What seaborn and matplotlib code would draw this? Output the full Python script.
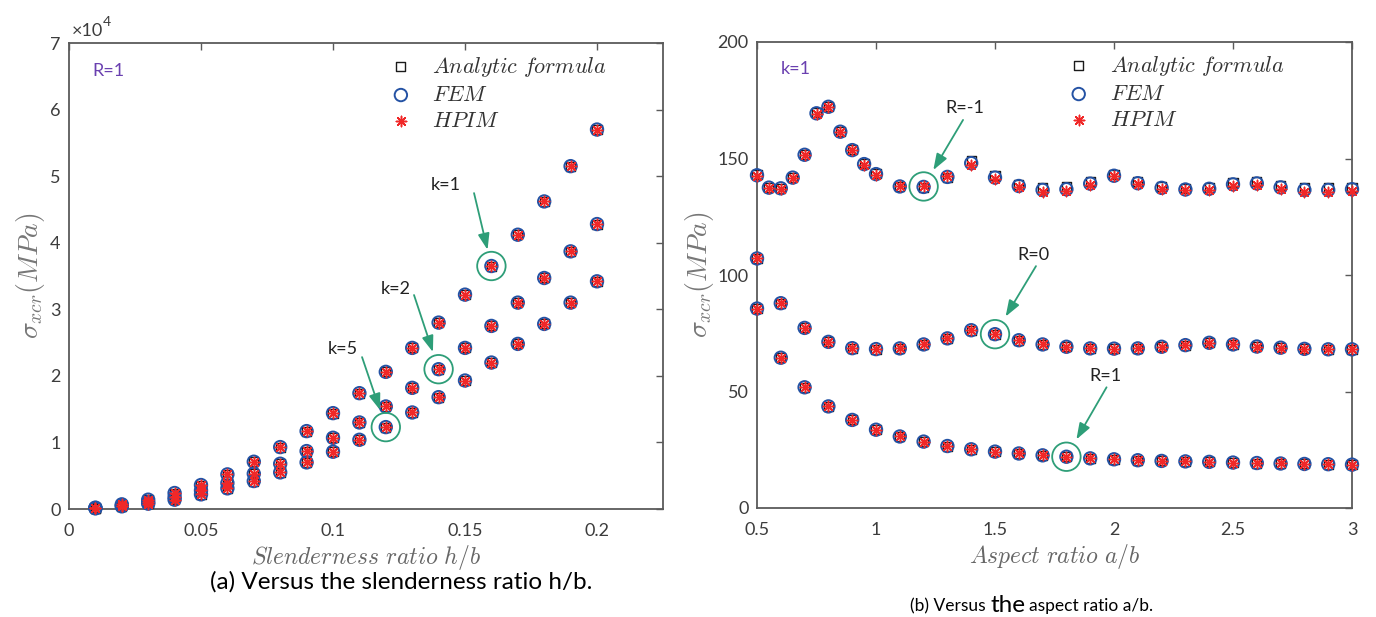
import numpy as np
import pandas as pd
import matplotlib
matplotlib.use("Agg")
import matplotlib.pyplot as plt
from matplotlib.ticker import FuncFormatter
from matplotlib.offsetbox import TextArea, HPacker, AnchoredOffsetbox
import seaborn as sns

# ----------------------------- data -----------------------------
# (a) sigma_xcr vs slenderness ratio h/b, R=1
hb = [0.01, 0.02, 0.03, 0.04, 0.05, 0.06, 0.07, 0.08, 0.09, 0.10,
      0.11, 0.12, 0.13, 0.14, 0.15, 0.16, 0.17, 0.18, 0.19, 0.20]
k1 = [200, 700, 1400, 2400, 3600, 5200, 7100, 9300, 11700, 14400,
      17400, 20600, 24200, 28000, 32200, 36500, 41200, 46200, 51500, 57000]
k2 = [150, 500, 1000, 1800, 2800, 3900, 5300, 6800, 8700, 10700,
      13000, 15400, 18200, 21000, 24200, 27500, 31000, 34700, 38700, 42800]
k5 = [100, 400, 800, 1400, 2200, 3100, 4200, 5500, 7000, 8600,
      10400, 12300, 14500, 16800, 19300, 22000, 24800, 27800, 31000, 34200]

# (b) sigma_xcr vs aspect ratio a/b, k=1
ab_fine = [0.5, 0.55, 0.6, 0.65, 0.7, 0.75, 0.8, 0.85, 0.9, 0.95, 1.0,
           1.1, 1.2, 1.3, 1.4, 1.5, 1.6, 1.7, 1.8, 1.9, 2.0,
           2.1, 2.2, 2.3, 2.4, 2.5, 2.6, 2.7, 2.8, 2.9, 3.0]
ab = [0.5, 0.6, 0.7, 0.8, 0.9, 1.0, 1.1, 1.2, 1.3, 1.4, 1.5, 1.6, 1.7,
      1.8, 1.9, 2.0, 2.1, 2.2, 2.3, 2.4, 2.5, 2.6, 2.7, 2.8, 2.9, 3.0]
rm1_hpim = [142.6, 137.3, 137.0, 141.6, 151.4, 169.1, 172.0, 161.4, 153.5, 147.4, 143.1,
            138.0, 138.0, 142.3, 147.4, 141.2, 137.6, 135.8, 136.1, 138.7, 142.3,
            139.0, 137.0, 136.3, 136.6, 138.4, 138.7, 137.0, 135.8, 135.8, 136.1]
rm1_fem = [142.8, 137.5, 137.2, 141.8, 151.6, 169.4, 172.2, 161.5, 153.6, 147.6, 143.3,
           138.0, 137.8, 142.1, 148.0, 141.8, 138.2, 136.5, 136.8, 139.2, 142.6,
           139.4, 137.4, 136.7, 137.0, 138.9, 139.3, 137.6, 136.5, 136.5, 136.8]
rm1_analytic = [143.0, 137.6, 137.3, 142.0, 151.8, 169.6, 172.4, 161.6, 153.8, 147.8, 143.5,
                138.0, 137.6, 141.9, 149.0, 142.8, 139.0, 137.6, 137.8, 140.0, 143.0,
                140.0, 138.0, 137.2, 137.6, 139.6, 140.2, 138.6, 137.4, 137.4, 137.6]
r0 = [107.1, 87.9, 77.3, 71.3, 68.6, 68.2, 68.5, 70.2, 72.8, 76.3, 74.6, 72.0, 70.2,
      69.2, 68.5, 68.4, 68.5, 69.2, 69.9, 70.9, 70.2, 69.3, 68.8, 68.3, 68.1, 68.1]
r1 = [85.6, 64.5, 51.8, 43.6, 37.8, 33.6, 30.7, 28.5, 26.6, 25.2, 24.2, 23.4, 22.6,
      22.0, 21.3, 20.9, 20.5, 20.2, 20.0, 19.8, 19.5, 19.3, 19.1, 18.9, 18.8, 18.6]

methods = [r'$Analytic\ formula$', r'$FEM$', r'$HPIM$']

df_a = pd.DataFrame({'x': hb * 3, 'y': k1 + k2 + k5})
df_b = {
    methods[0]: pd.DataFrame({'x': ab_fine + ab + ab, 'y': rm1_analytic + r0 + r1}),
    methods[1]: pd.DataFrame({'x': ab_fine + ab + ab, 'y': rm1_fem + r0 + r1}),
    methods[2]: pd.DataFrame({'x': ab_fine + ab + ab, 'y': rm1_hpim + r0 + r1}),
}

# ----------------------------- style -----------------------------
sns.set_theme(style='white')
plt.rcParams['font.family'] = ['Lato', 'DejaVu Sans']
plt.rcParams['mathtext.fontset'] = 'cm'

GREEN = '#2e9e78'
PURPLE = '#6a40b0'
BLUE = '#2452a4'
RED = '#f02828'
TICKC = '#3c3c3c'

marker_kw = {
    methods[0]: dict(marker='s', s=42, facecolors='none', edgecolor='#1a1a1a', linewidth=1.0),
    methods[1]: dict(marker='o', s=80, facecolors='none', edgecolor=BLUE, linewidth=1.4),
    methods[2]: dict(marker=(8, 2, 0), s=55, color=RED, linewidth=1.1),
}

fig = plt.figure(figsize=(13.76, 6.17), dpi=100)
ax1 = fig.add_axes([69 / 1376, 108 / 617, 594 / 1376, 466 / 617])
ax2 = fig.add_axes([757 / 1376, 109 / 617, 595 / 1376, 466 / 617])


def style_axes(ax):
    for sp in ax.spines.values():
        sp.set_color('#5a5a5a')
        sp.set_linewidth(1.3)
        sp.set_zorder(1)
    ax.tick_params(direction='in', top=True, right=True, length=5, width=1,
                   color='#5a5a5a', labelcolor=TICKC, labelsize=13)
    ax.tick_params(axis='x', pad=10)
    ax.tick_params(axis='y', pad=6)


def add_legend(ax, anchor):
    ax.legend(loc='upper left', bbox_to_anchor=anchor, frameon=False, fontsize=16,
              handlelength=1.0, handletextpad=0.9, labelspacing=0.28, borderpad=0,
              borderaxespad=0, labelcolor='#333333')


def mark(ax, x, y, text, text_off, start_off, shrink):
    ax.scatter([x], [y], s=420, facecolors='none', edgecolors=GREEN, linewidths=1.3, zorder=5)
    ax.annotate('', xy=(x, y), xytext=start_off, textcoords='offset points',
                arrowprops=dict(arrowstyle='-|>,head_length=0.7,head_width=0.25',
                                color=GREEN, lw=1.3, shrinkA=0, shrinkB=shrink,
                                mutation_scale=14))
    ax.annotate(text, xy=(x, y), xytext=text_off, textcoords='offset points',
                ha='center', va='center', fontsize=13, color='#222222')


# ----------------------------- (a) -----------------------------
for m in methods:
    sns.scatterplot(data=df_a, x='x', y='y', ax=ax1, label=m, clip_on=False, zorder=3,
                    **marker_kw[m])
ax1.set_xlim(0, 0.225)
ax1.set_ylim(0, 70000)
ax1.set_xticks([0, 0.05, 0.1, 0.15, 0.2])
ax1.set_xticklabels(['0', '0.05', '0.1', '0.15', '0.2'])
ax1.set_yticks(np.arange(0, 70001, 10000))
ax1.yaxis.set_major_formatter(FuncFormatter(lambda v, _: f'{v / 1e4:g}'))
style_axes(ax1)
ax1.set_xlabel(r'$Slenderness\ ratio\ h/b$', fontsize=17, color='#666666', labelpad=3)
ax1.set_ylabel(r'$\sigma_{xcr}(MPa)$', fontsize=20, color='#777777', labelpad=2)
t10 = ax1.text(0.005, 1.008, '×10', transform=ax1.transAxes, fontsize=13,
               color=TICKC, ha='left', va='bottom')
ax1.annotate('4', xy=(1.0, 0.72), xycoords=t10, fontsize=10, color=TICKC,
             ha='left', va='bottom')
ax1.text(0.04, 0.94, 'R=1', transform=ax1.transAxes, color=PURPLE, fontsize=13,
         ha='left', va='center')
add_legend(ax1, (0.54, 0.975))

mark(ax1, hb[15], k1[15], 'k=1', (-33, 58), (-12.5, 52.5), 12)
mark(ax1, hb[13], k2[13], 'k=2', (-31, 58), (-17.7, 53.4), 13)
mark(ax1, hb[11], k5[11], 'k=5', (-31, 56), (-17.1, 50.4), 13)

# ----------------------------- (b) -----------------------------
for m in methods:
    sns.scatterplot(data=df_b[m], x='x', y='y', ax=ax2, label=m, clip_on=False, zorder=3,
                    **marker_kw[m])
ax2.set_xlim(0.5, 3)
ax2.set_ylim(0, 200)
ax2.set_xticks([0.5, 1, 1.5, 2, 2.5, 3])
ax2.set_xticklabels(['0.5', '1', '1.5', '2', '2.5', '3'])
ax2.set_yticks([0, 50, 100, 150, 200])
style_axes(ax2)
ax2.set_xlabel(r'$Aspect\ ratio\ a/b$', fontsize=17, color='#666666', labelpad=3)
ax2.set_ylabel(r'$\sigma_{xcr}(MPa)$', fontsize=20, color='#777777', labelpad=1)
ax2.text(0.04, 0.942, 'k=1', transform=ax2.transAxes, color=PURPLE, fontsize=13,
         ha='left', va='center')
add_legend(ax2, (0.522, 0.975))

mark(ax2, ab_fine[12], rm1_hpim[12], 'R=-1', (29.8, 56.5), (28.4, 47.9), 13.7)
mark(ax2, ab[10], r0[10], 'R=0', (28, 57), (29.5, 49), 14.8)
mark(ax2, ab[13], r1[13], 'R=1', (27.8, 58.3), (28.9, 50), 14.4)

# ----------------------------- captions -----------------------------
fig.text(401 / 1376, 1 - 582 / 617, '(a) Versus the slenderness ratio h/b.',
         ha='center', va='center', fontsize=17.5, color='black')

parts = [TextArea('(b) Versus', textprops=dict(size=12.5, color='black')),
         TextArea('the', textprops=dict(size=17.5, color='black')),
         TextArea('aspect ratio a/b.', textprops=dict(size=12.5, color='black'))]
box = HPacker(children=parts, align='baseline', pad=0, sep=3)
cap_b = AnchoredOffsetbox(loc='center', child=box, frameon=False, pad=0, borderpad=0,
                          bbox_to_anchor=(1032 / 1376, 1 - 605 / 617),
                          bbox_transform=fig.transFigure)
fig.add_artist(cap_b)

fig.savefig('out.png', dpi=100)
